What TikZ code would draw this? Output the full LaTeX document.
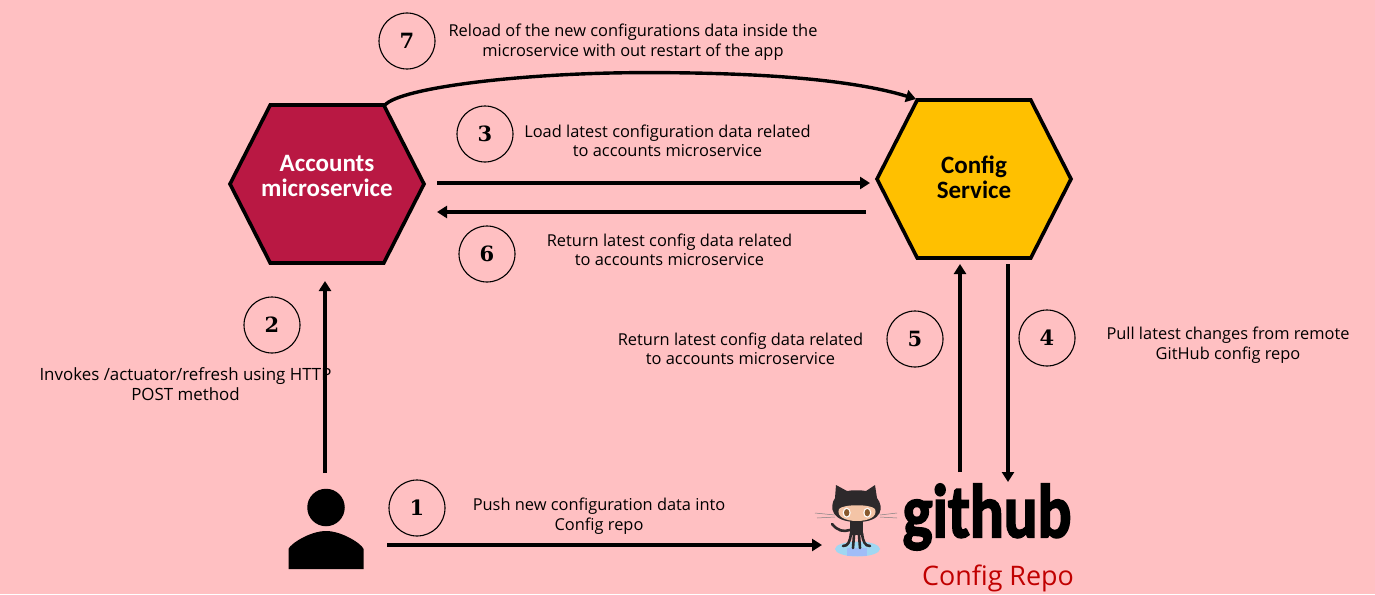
\documentclass[tikz,border=0pt]{standalone}
\usepackage{fontspec}
\setmainfont{Open Sans}
\newfontfamily\slabfont{DejaVu Serif}
\newfontfamily\hexfont{Carlito}
\newfontfamily\logofont[BoldFeatures={FakeBold=2.5}]{Carlito}
\usepackage{tikz}
\usetikzlibrary{shapes,shapes.geometric,shapes.symbols}
\usetikzlibrary{arrows.meta}
\definecolor{bgpink}{RGB}{255,192,194}
\definecolor{accountsred}{RGB}{185,24,67}
\definecolor{configgold}{RGB}{255,192,0}
\definecolor{repored}{RGB}{192,0,0}
\definecolor{catgrey}{RGB}{45,41,43}
\definecolor{catskin}{RGB}{244,196,166}
\definecolor{catice}{RGB}{160,215,242}
\tikzset{
	hexbox/.style={shape=signal,signal to=east and west,signal pointer angle=126,draw=black,line width=3.6pt,minimum width=194pt,minimum height=158pt,inner sep=0pt},
	hextext/.style={align=center,inner sep=0pt,font=\hexfont\bfseries\fontsize{25}{25}\selectfont},
	flow/.style={line width=3.4pt,-{Triangle[length=10pt,width=12pt]}},
	stepnum/.style={circle,draw=black,line width=1.1pt,minimum size=56pt,inner sep=0pt,font=\slabfont\bfseries\fontsize{21}{21}\selectfont},
	note/.style={align=center,font=\fontsize{16.4}{19.5}\selectfont,inner sep=0pt}
}
\begin{document}
\begin{tikzpicture}[x=1pt,y=-1pt]
	\fill[bgpink] (0,0) rectangle (1375,594);
	\useasboundingbox (0,0) rectangle (1375,594);
	% services
	\node[hexbox,fill=accountsred] (accounts) at (327,184) {};
	\node[hexbox,fill=configgold] (config) at (974,179) {};
	\node[hextext,text=white] (accountstext) at (327,175.5) {Accounts\\microservice};
	\node[hextext,text=black] (configtext) at (974,177) {Config\\Service};
	% user
	\node[circle,fill=black,minimum size=37.5pt,inner sep=0pt] (user) at (326,507.5) {};
	\fill (288.5,569) -- (288.5,549) .. controls (290,544) and (310,531) .. (326,531) .. controls (342,531) and (362,544) .. (363.5,549) -- (363.5,569) -- cycle;
	% octocat
	\coordinate (octocat) at (856,520);
	\fill[catice] (857.5,549) ellipse (22.5pt and 7.5pt);
	\fill[catice!75!blue!70] (847,548) rectangle (867,556);
	\fill[catgrey] (836,485) -- (847,491) .. controls (852,490) and (861,490) .. (866,491) -- (875,485) -- (877,498) .. controls (884,507) and (883,522) .. (857,522) .. controls (831,522) and (829,507) .. (835,498) -- cycle;
	\fill[catskin] (839,509) .. controls (843,504) and (871,504) .. (875,509) .. controls (878,517) and (868,521) .. (857,521) .. controls (846,521) and (836,517) .. (839,509) -- cycle;
	\fill[white] (846.7,512.7) ellipse (4pt and 5pt) (867.3,512.7) ellipse (4pt and 5pt);
	\fill[brown!70!black] (846.7,512.7) ellipse (2.7pt and 3.7pt) (867.3,512.7) ellipse (2.7pt and 3.7pt);
	\fill[catgrey] (850,521) rectangle (863,535);
	\draw[catgrey,line width=2.6pt,line cap=round] (851,533) .. controls (850,542) and (848,546) .. (843,546) (854,535) -- (853,548) (859,535) -- (860,548) (862,533) .. controls (863,542) and (865,546) .. (870,546) (850,530) .. controls (843,532) and (838,531) .. (832,524);
	\draw[gray,line width=0.5pt] (835,515) -- (815,513) (835,517) -- (817,518) (880,515) -- (897,513) (880,517) -- (897,518);
	% repo
	\node[inner sep=0pt,font=\logofont\bfseries\fontsize{76}{76}\selectfont] (github) at (987,517) {\scalebox{0.83}[1]{github}};
	\node[inner sep=0pt,text=repored,font=\fontsize{26.9}{30}\selectfont] (repo) at (998,578) {Config Repo};
	% steps
	\node[stepnum] (stepone) at (417,508) {1};
	\node[stepnum] (steptwo) at (272,325) {2};
	\node[stepnum] (stepthree) at (485,134) {3};
	\node[stepnum] (stepfour) at (1047,338) {4};
	\node[stepnum] (stepfive) at (915,339) {5};
	\node[stepnum] (stepsix) at (487,254) {6};
	\node[stepnum] (stepseven) at (407,41) {7};
	% notes
	\node[note] at (633,42) {Reload of the new configurations data inside the\\microservice with out restart of the app};
	\node[note] at (667.5,141) {Load latest configuration data related\\to accounts microservice};
	\node[note] at (669.5,250) {Return latest config data related\\to accounts microservice};
	\node[note] at (740.5,349) {Return latest config data related\\to accounts microservice};
	\node[note] at (1228,345) {Pull latest changes from remote\\GitHub config repo};
	\node[note,font=\fontsize{16.9}{19.5}\selectfont] at (185.5,384) {Invokes /actuator/refresh using HTTP\\POST method};
	\node[note] at (599,516) {Push new configuration data into\\Config repo};
	% connectors
	\draw[flow] ([shift={(110,-1)}]accounts.center) -- ([shift={(-104,4)}]config.center);
	\draw[flow] ([shift={(-108,33)}]config.center) -- ([shift={(110,28)}]accounts.center);
	\draw[flow] ([shift={(-1,-34.5)}]user.center) -- ([shift={(-2,97)}]accounts.center);
	\draw[flow] ([shift={(61,37.5)}]user.center) -- ([shift={(-34,25)}]octocat);
	\draw[flow] ([shift={(-27,-45)}]github.center) -- ([shift={(-14,85)}]config.center);
	\draw[flow] ([shift={(34,85)}]config.center) -- ([shift={(21,-35)}]github.center);
	\draw[flow] ([shift={(58,-79)}]accounts.center) .. controls +(15,-17) and +(-127,0) .. (647,72.6) .. controls +(133,0) and +(-56,-17) .. ([shift={(-58,-80)}]config.center);
\end{tikzpicture}
\end{document}
